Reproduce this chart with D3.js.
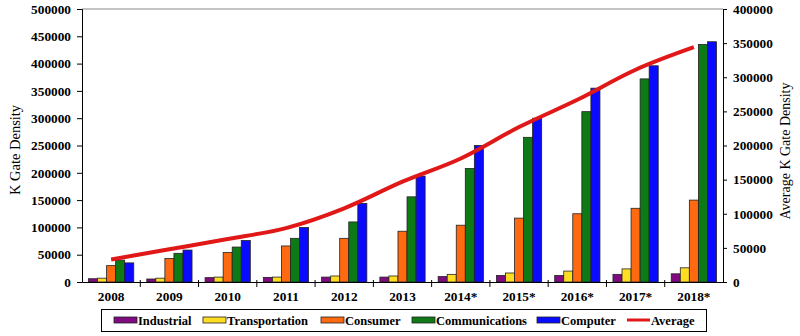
<!DOCTYPE html>
<html><head><meta charset="utf-8">
<script src="https://cdn.jsdelivr.net/npm/d3@7"></script>
<style>
html,body{margin:0;padding:0;background:#fff;}
svg{display:block;}
svg text{font-family:"Liberation Serif","Times New Roman",Times,serif;}
</style></head>
<body>
<svg id="chart" width="800" height="336"></svg>
<script>
const years = ["2008","2009","2010","2011","2012","2013","2014*","2015*","2016*","2017*","2018*"];
const seriesNames = ["Industrial","Transportation","Consumer","Communications","Computer"];
const industrial     = [6000, 5500, 8000, 8500, 9000, 9000, 10000, 12000, 12000, 14000, 15000];
const transportation = [7000, 7000, 9000, 9000, 11000, 11000, 14000, 16500, 20000, 24000, 26000];
const consumer       = [30000, 43000, 54000, 66000, 80000, 93000, 104000, 117000, 125000, 135000, 150000];
const communications = [40000, 52500, 64000, 80000, 110000, 156000, 208000, 265000, 312000, 372000, 435000];
const computer       = [35000, 58500, 76000, 100000, 144000, 194000, 250000, 300000, 355000, 396000, 440000];
const average        = [33000, 48000, 63000, 79000, 108000, 147000, 181000, 227000, 267000, 311000, 344000];
const leftTicks  = [0,50000,100000,150000,200000,250000,300000,350000,400000,450000,500000];
const rightTicks = [0,50000,100000,150000,200000,250000,300000,350000,400000];
const colors = ["#800a80","#ffdd22","#ff6a10","#0d7a16","#0a0aff"];
const lineColor = "#e01818";

const values = [industrial, transportation, consumer, communications, computer];
const svg = d3.select("#chart");
const L = 82, R = 723, T = 9, B = 282;
const FONT = "'Liberation Serif','Times New Roman',Times,serif";

const x = d3.scaleBand().domain(years).range([L, R]).paddingInner(0).paddingOuter(0);
const xs = d3.scaleBand().domain(seriesNames).range([0, x.bandwidth()]).paddingOuter(0.72).paddingInner(0);
const yL = d3.scaleLinear().domain([0, 500000]).range([B, T]);
const yR = d3.scaleLinear().domain([0, 400000]).range([B, T]);

// top border
svg.append("line").attr("x1", L).attr("x2", R).attr("y1", T).attr("y2", T)
  .attr("stroke", "#888").attr("stroke-width", 1);

// bars
years.forEach((yr, i) => {
  seriesNames.forEach((s, j) => {
    const v = values[j][i];
    svg.append("rect")
      .attr("x", x(yr) + xs(s))
      .attr("y", yL(v))
      .attr("width", xs.bandwidth())
      .attr("height", B - yL(v))
      .attr("fill", colors[j])
      .attr("stroke", "#222")
      .attr("stroke-width", 0.8);
  });
});

// average line
const line = d3.line()
  .x((d, i) => x(years[i]) + x.bandwidth() / 2)
  .y(d => yR(d))
  .curve(d3.curveMonotoneX);
svg.append("path").datum(average).attr("d", line)
  .attr("fill", "none").attr("stroke", lineColor).attr("stroke-width", 4);

const fontTick = (g, size) => {
  g.attr("font-family", FONT);
  g.selectAll("text")
    .attr("font-family", FONT)
    .attr("font-size", size).attr("font-weight", "bold").attr("fill", "#000");
};

// left axis
const gl = svg.append("g").attr("transform", `translate(${L},0)`)
  .call(d3.axisLeft(yL).tickValues(leftTicks).tickFormat(d3.format("d")).tickSize(5).tickPadding(6));
fontTick(gl, 13.3);
gl.selectAll("path,line").attr("stroke", "#000");

// right axis
const gr = svg.append("g").attr("transform", `translate(${R},0)`)
  .call(d3.axisRight(yR).tickValues(rightTicks).tickFormat(d3.format("d")).tickSize(4).tickPadding(6));
fontTick(gr, 13.3);
gr.selectAll("path,line").attr("stroke", "#000");

// bottom axis
const gb = svg.append("g").attr("transform", `translate(0,${B})`)
  .call(d3.axisBottom(x).tickSize(0).tickPadding(10));
fontTick(gb, 13.3);
gb.select("path").attr("stroke", "#000");
// category separator ticks
svg.append("g").selectAll("line").data(years.slice(1)).join("line")
  .attr("x1", d => x(d)).attr("x2", d => x(d))
  .attr("y1", B - 2).attr("y2", B + 5).attr("stroke", "#000");

// axis titles
svg.append("text").attr("transform", `translate(20,150) rotate(-90)`)
  .attr("font-family", FONT)
  .attr("text-anchor", "middle").attr("font-size", 14.5).text("K Gate Density");
svg.append("text").attr("transform", `translate(790,151) rotate(-90)`)
  .attr("font-family", FONT)
  .attr("text-anchor", "middle").attr("font-size", 14).text("Average K Gate Density");

// legend
const lg = svg.append("g");
lg.append("rect").attr("x", 101.5).attr("y", 309.5).attr("width", 605).attr("height", 22)
  .attr("fill", "#fff").attr("stroke", "#000").attr("stroke-width", 1);
const legendItems = seriesNames.map((s, j) => ({name: s, color: colors[j], type: "rect"}))
  .concat([{name: "Average", color: lineColor, type: "line"}]);
const legendX = [114, 203, 321, 412, 537, 627];
legendItems.forEach((it, k) => {
  const gx = legendX[k];
  if (it.type === "rect") {
    lg.append("rect").attr("x", gx).attr("y", 317).attr("width", 23).attr("height", 6)
      .attr("fill", it.color).attr("stroke", "#222").attr("stroke-width", 0.8);
  } else {
    lg.append("line").attr("x1", gx).attr("x2", gx + 23).attr("y1", 320).attr("y2", 320)
      .attr("stroke", it.color).attr("stroke-width", 3);
  }
  lg.append("text").attr("x", gx + 24).attr("y", 324.5)
    .attr("font-family", FONT)
    .attr("font-size", 12.5).attr("font-weight", "bold").text(it.name);
});
</script>
</body></html>
